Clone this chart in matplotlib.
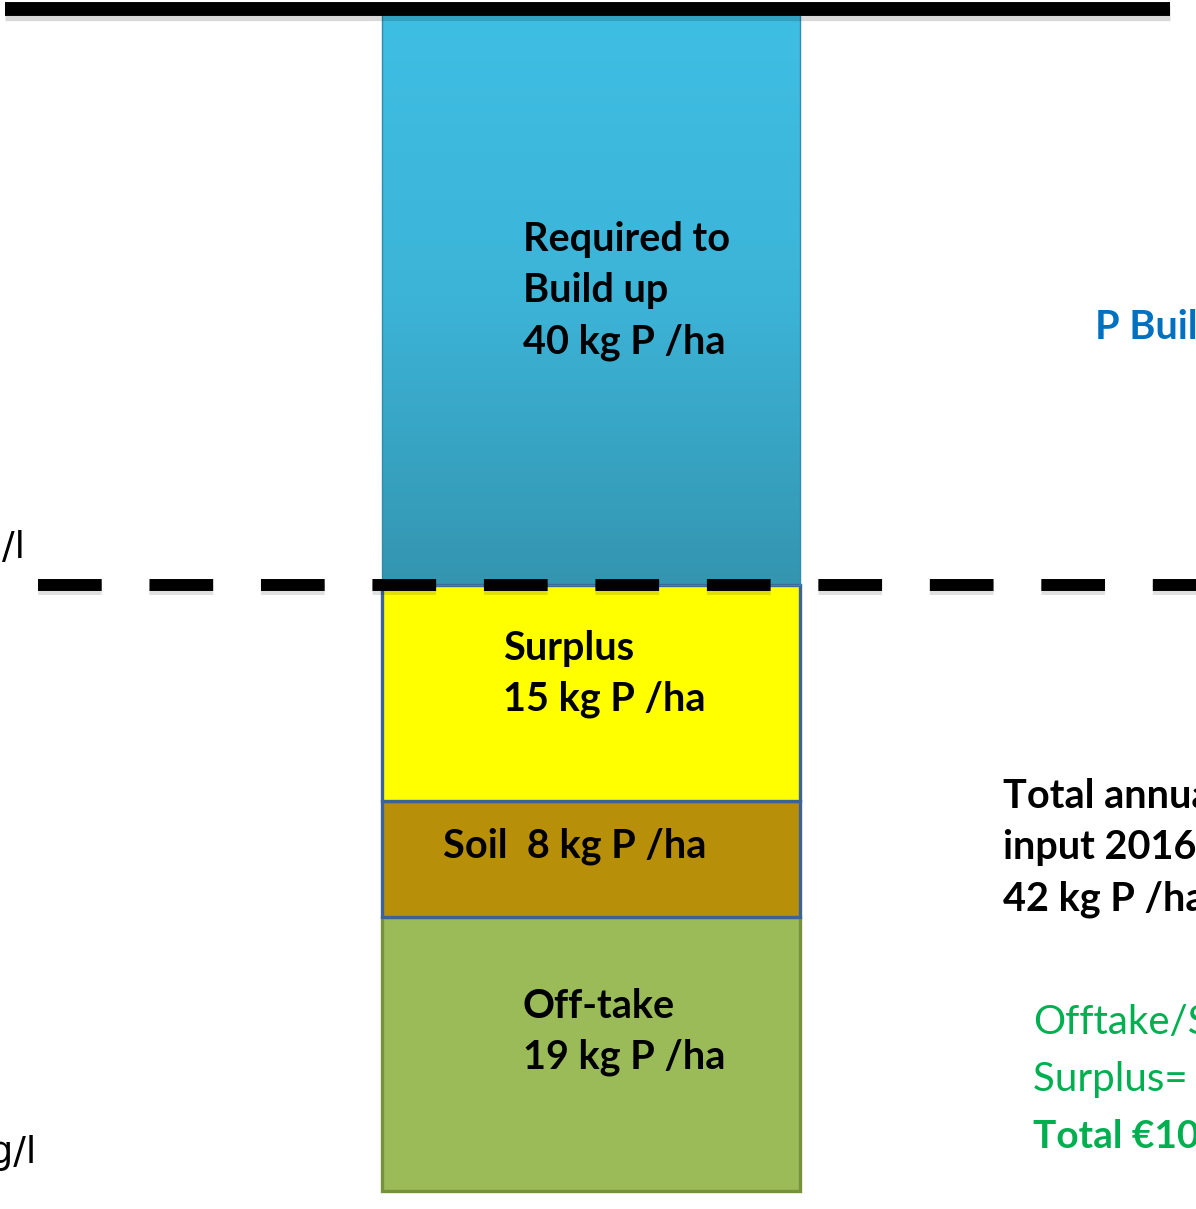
import matplotlib.pyplot as plt
import numpy as np
from matplotlib.transforms import Affine2D
from matplotlib.colors import LinearSegmentedColormap

# P balance per hectare, stacked from the bottom up (kg P /ha)
segments = ["Off-take", "Soil", "Surplus", "Required to Build up"]
values = [19, 8, 15, 40]
labels = ["Off-take\n19 kg P /ha",
          "Soil  8 kg P /ha",
          "Surplus\n15 kg P /ha",
          "Required to\nBuild up\n40 kg P /ha"]
colors = ["#9BBB59", "#B88F09", "#FFFF00", None]
edges = ["#76923C", "#3D6394", "#3D6394", "#2F8DAB"]

total_input = sum(values[:3])          # 42 kg P /ha, annual input 2016
target = total_input + values[3]       # build-up level

W, H = 1196, 1209
fig = plt.figure(figsize=(W / 100, H / 100), dpi=100)
ax = fig.add_axes([0, 0, 1, 1])
ax.set_xlim(0, W)
ax.set_ylim(-1.28, 82.62)
ax.axis("off")

# pixel transform for free text (origin top-left)
px = Affine2D().scale(1 / W, -1 / H).translate(0, 1) + fig.transFigure

bar_x, bar_w = 590.5, 418
bottoms = np.concatenate([[0], np.cumsum(values)[:-1]])
bars = ax.bar([bar_x] * len(values), values, width=bar_w, bottom=bottoms,
              color=[c if c else "none" for c in colors],
              edgecolor=edges, linewidth=[2.4, 2.4, 2.4, 1.0], zorder=2)

# blue gradient fill for the build-up block
blue = LinearSegmentedColormap.from_list("blue", ["#3495B0", "#3CB4D8", "#3FBEE3"])
grad = np.linspace(0, 1, 256).reshape(-1, 1)
im = ax.imshow(grad, cmap=blue, aspect="auto", origin="lower",
               extent=[bar_x - bar_w / 2, bar_x + bar_w / 2,
                       bottoms[3], bottoms[3] + values[3]], zorder=1.5)
im.set_clip_path(bars[3])

# soft shadows under the black lines
ax.plot([5, 1170], [target - 0.3, target - 0.3], color="#000000", alpha=0.15,
        lw=11, solid_capstyle="butt", zorder=3)
ax.plot([5, 1170], [target, target], color="black", lw=10, solid_capstyle="butt", zorder=4)

dash = (0, (64 / 12, 48 / 12))
ax.plot([38, W], [total_input - 0.22, total_input - 0.22], color="#000000", alpha=0.12,
        lw=8.6, linestyle=dash, dash_capstyle="butt", zorder=3)
ax.plot([38, W], [total_input, total_input], color="black", lw=8.6,
        linestyle=dash, dash_capstyle="butt", zorder=4)

font = "Lato"
txt = dict(transform=px, fontfamily=font, fontweight="bold", fontsize=28.5,
           va="center", ha="left", linespacing=1.48, zorder=5)

label_pos = [(523, 1032), (443, 846), (503, 674), (523, 291)]
for (x, y), lab in zip(label_pos, labels):
    ax.text(x, y, lab, **txt)

ax.text(1003, 848, "Total annual\ninput 2016:\n" + f"{total_input} kg P /ha", **txt)
ax.text(1095, 327, "P Build up", color="#0070C0", **txt)

green = "#00B050"
ax.text(1033, 1023, "Offtake/Soil=", color=green, transform=px, fontfamily=font,
        fontsize=29, va="center", ha="left", zorder=5)
ax.text(1033, 1080, "Surplus= €", color=green, transform=px, fontfamily=font,
        fontsize=29, va="center", ha="left", zorder=5)
ax.text(1033, 1136, "Total €100", color=green, transform=px, fontfamily=font,
        fontweight="bold", fontsize=28, va="center", ha="left", zorder=5)

# soil test thresholds at the left edge
ax.text(2, 548, "/l", transform=px, fontfamily="DejaVu Sans", fontsize=27,
        va="center", ha="left", zorder=5)
ax.text(37, 1153, "mg/l", transform=px, fontfamily="DejaVu Sans", fontsize=27,
        va="center", ha="right", zorder=5)

fig.savefig("out.png", dpi=100)
